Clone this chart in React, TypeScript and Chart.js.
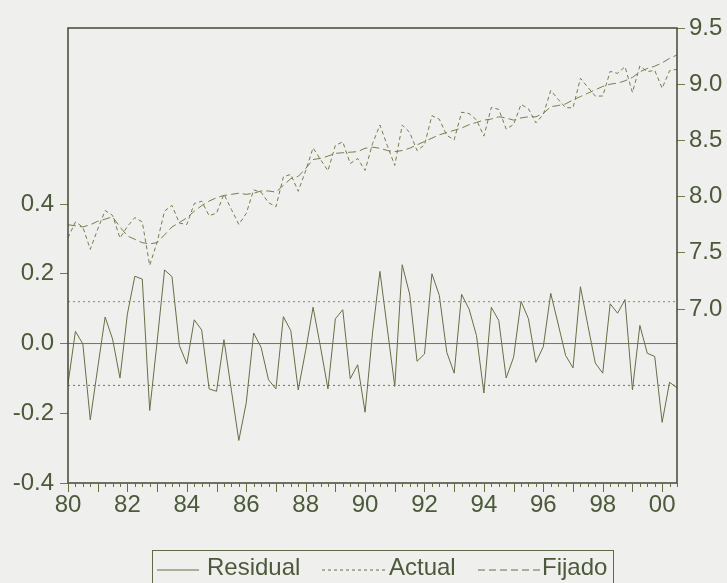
import React, { useEffect, useRef } from 'react';
import { Chart, registerables } from 'chart.js';

Chart.register(...registerables);

// Quarterly sample 1980Q1 - 2000Q3
const startYear = 1980;
const endX = 2000.5;

const residual = [
  -0.116, 0.035, -0.001, -0.219, -0.070, 0.076, 0.013, -0.099, 0.085, 0.193,
  0.185, -0.192, 0.005, 0.211, 0.192, -0.006, -0.058, 0.068, 0.039, -0.130,
  -0.137, 0.011, -0.134, -0.278, -0.170, 0.030, -0.011, -0.104, -0.130, 0.077,
  0.037, -0.133, -0.020, 0.104, -0.010, -0.130, 0.071, 0.097, -0.101, -0.061,
  -0.197, 0.030, 0.207, 0.042, -0.123, 0.226, 0.142, -0.051, -0.030, 0.200,
  0.138, -0.025, -0.085, 0.141, 0.099, 0.023, -0.142, 0.104, 0.066, -0.099,
  -0.039, 0.121, 0.071, -0.054, -0.009, 0.144, 0.056, -0.034, -0.070, 0.163,
  0.052, -0.056, -0.085, 0.114, 0.087, 0.126, -0.133, 0.052, -0.028, -0.037,
  -0.226, -0.111, -0.127,
];

const actual = [
  7.634, 7.775, 7.729, 7.531, 7.710, 7.876, 7.833, 7.631, 7.735, 7.813,
  7.775, 7.388, 7.595, 7.871, 7.922, 7.764, 7.752, 7.938, 7.959, 7.830,
  7.853, 8.021, 7.886, 7.752, 7.850, 8.060, 8.039, 7.946, 7.910, 8.177,
  8.197, 8.047, 8.230, 8.434, 8.330, 8.230, 8.456, 8.487, 8.294, 8.339,
  8.233, 8.470, 8.637, 8.452, 8.277, 8.636, 8.572, 8.409, 8.460, 8.720,
  8.688, 8.545, 8.505, 8.751, 8.739, 8.683, 8.538, 8.794, 8.776, 8.601,
  8.641, 8.821, 8.781, 8.656, 8.731, 8.944, 8.866, 8.791, 8.790, 9.053,
  8.972, 8.894, 8.895, 9.114, 9.097, 9.156, 8.927, 9.162, 9.112, 9.123,
  8.964, 9.119, 9.133,
];

const fitted = [
  7.75, 7.74, 7.73, 7.75, 7.78, 7.80, 7.82, 7.73, 7.65, 7.62,
  7.59, 7.58, 7.59, 7.66, 7.73, 7.77, 7.81, 7.87, 7.92, 7.96,
  7.99, 8.01, 8.02, 8.03, 8.02, 8.03, 8.05, 8.05, 8.04, 8.10,
  8.16, 8.18, 8.25, 8.33, 8.34, 8.36, 8.385, 8.39, 8.395, 8.40,
  8.43, 8.44, 8.43, 8.41, 8.40, 8.41, 8.43, 8.46, 8.49, 8.52,
  8.55, 8.57, 8.59, 8.61, 8.64, 8.66, 8.68, 8.69, 8.71, 8.70,
  8.68, 8.70, 8.71, 8.71, 8.74, 8.80, 8.81, 8.825, 8.86, 8.89,
  8.92, 8.95, 8.98, 9.00, 9.01, 9.03, 9.06, 9.11, 9.14, 9.16,
  9.19, 9.23, 9.26,
];

const seBand = 0.12;

const leftTicks = [-0.4, -0.2, 0.0, 0.2, 0.4];
const leftTickLabels = ['-0.4', '-0.2', '0.0', '0.2', '0.4'];
const rightTicks = [7.0, 7.5, 8.0, 8.5, 9.0, 9.5];
const rightTickLabels = ['7.0', '7.5', '8.0', '8.5', '9.0', '9.5'];
const xTickYears = [1980, 1982, 1984, 1986, 1988, 1990, 1992, 1994, 1996, 1998, 2000];
const xTickLabels = ['80', '82', '84', '86', '88', '90', '92', '94', '96', '98', '00'];
const legendLabels = ['Residual', 'Actual', 'Fijado'];

const FONT = "'Liberation Sans', Arial, sans-serif";
const TEXT = '#4c5a3a';
const FRAME = '#3f4b30';
const LINE = '#6b6c44';
const DASH = '#7b7a4c';
const BG = '#efefed';

const periodX = (i: number) => startYear + i / 4;
const toPoints = (arr: number[]) => arr.map((v, i) => ({ x: periodX(i), y: v }));

const framePlugin = {
  id: 'framePlugin',
  afterDraw(chart: any) {
    const { ctx, chartArea: a, scales } = chart;
    ctx.save();
    ctx.strokeStyle = FRAME;
    ctx.lineWidth = 1.5;
    ctx.strokeRect(a.left, a.top, a.right - a.left, a.bottom - a.top);
    ctx.lineWidth = 1;
    ctx.strokeStyle = '#6a6a3e';
    residual.forEach((_, i) => {
      const px = Math.round(scales.x.getPixelForValue(periodX(i))) + 0.5;
      const len = i % 4 === 0 ? 9 : 4;
      ctx.beginPath();
      ctx.moveTo(px, a.bottom);
      ctx.lineTo(px, a.bottom + len);
      ctx.stroke();
    });
    ctx.restore();
  },
};

function LegendLine({ dash }: { dash?: string }) {
  return (
    <svg width="100%" height="4" style={{ display: 'block' }}>
      <line x1="0" y1="2" x2="100%" y2="2" stroke={LINE} strokeWidth="1" strokeDasharray={dash} />
    </svg>
  );
}

export default function App() {
  const canvasRef = useRef<HTMLCanvasElement | null>(null);

  useEffect(() => {
    if (!canvasRef.current) return;
    const chart = new Chart(canvasRef.current, {
      type: 'line',
      data: {
        datasets: [
          {
            label: legendLabels[0],
            data: toPoints(residual),
            yAxisID: 'y',
            borderColor: LINE,
            borderWidth: 1,
            pointRadius: 0,
            tension: 0,
          },
          {
            label: legendLabels[1],
            data: toPoints(actual),
            yAxisID: 'y2',
            borderColor: DASH,
            borderWidth: 1,
            borderDash: [4, 3],
            pointRadius: 0,
            tension: 0,
          },
          {
            label: legendLabels[2],
            data: toPoints(fitted),
            yAxisID: 'y2',
            borderColor: DASH,
            borderWidth: 1,
            borderDash: [8, 4],
            pointRadius: 0,
            tension: 0,
          },
          {
            label: 'zero',
            data: [{ x: startYear, y: 0 }, { x: endX, y: 0 }],
            yAxisID: 'y',
            borderColor: '#7d7442',
            borderWidth: 1,
            pointRadius: 0,
          },
          {
            label: '+se',
            data: [{ x: startYear, y: seBand }, { x: endX, y: seBand }],
            yAxisID: 'y',
            borderColor: '#8c8a55',
            borderWidth: 1,
            borderDash: [2, 3],
            pointRadius: 0,
          },
          {
            label: '-se',
            data: [{ x: startYear, y: -seBand }, { x: endX, y: -seBand }],
            yAxisID: 'y',
            borderColor: '#6f7450',
            borderWidth: 1,
            borderDash: [2, 3],
            pointRadius: 0,
          },
        ],
      },
      options: {
        animation: false,
        responsive: false,
        devicePixelRatio: 1,
        layout: { padding: { top: 28, left: 0, right: 0, bottom: 0 } },
        plugins: { legend: { display: false }, tooltip: { enabled: false } },
        scales: {
          x: {
            type: 'linear',
            position: 'bottom',
            min: startYear,
            max: endX,
            afterBuildTicks: (s: any) => {
              s.ticks = xTickYears.map((v) => ({ value: v }));
            },
            afterFit: (s: any) => {
              s.height = 100;
            },
            ticks: {
              autoSkip: false,
              maxRotation: 0,
              padding: 8,
              color: TEXT,
              font: { family: FONT, size: 24 },
              callback: (_v: any, i: number) => xTickLabels[i],
            },
            grid: { display: false, drawTicks: false },
            border: { display: false },
          },
          y: {
            type: 'linear',
            position: 'left',
            min: -0.4,
            max: 0.905,
            afterBuildTicks: (s: any) => {
              s.ticks = leftTicks.map((v) => ({ value: v }));
            },
            afterFit: (s: any) => {
              s.width = 68;
            },
            ticks: {
              padding: 6,
              color: TEXT,
              font: { family: FONT, size: 24 },
              callback: (_v: any, i: number) => leftTickLabels[i],
            },
            grid: { drawOnChartArea: false, drawTicks: true, tickLength: 8, color: '#7a7a48' },
            border: { display: false },
          },
          y2: {
            type: 'linear',
            position: 'right',
            min: 5.452,
            max: 9.5,
            afterBuildTicks: (s: any) => {
              s.ticks = rightTicks.map((v) => ({ value: v }));
            },
            afterFit: (s: any) => {
              s.width = 50;
            },
            ticks: {
              padding: 4,
              color: TEXT,
              font: { family: FONT, size: 24 },
              callback: (_v: any, i: number) => rightTickLabels[i],
            },
            grid: { drawOnChartArea: false, drawTicks: true, tickLength: 8, color: '#7a7a48' },
            border: { display: false },
          },
        },
      },
      plugins: [framePlugin],
    } as any);
    return () => chart.destroy();
  }, []);

  const textStyle: React.CSSProperties = {
    position: 'absolute',
    top: 553,
    fontFamily: FONT,
    fontSize: 24,
    lineHeight: '28px',
    color: TEXT,
    whiteSpace: 'nowrap',
  };
  const lineStyle = (left: number, width: number): React.CSSProperties => ({
    position: 'absolute',
    left,
    top: 568,
    width,
  });

  return (
    <div
      style={{
        position: 'fixed',
        left: 0,
        top: 0,
        width: 727,
        height: 583,
        background: BG,
        overflow: 'hidden',
      }}
    >
      <canvas ref={canvasRef} width={727} height={583} style={{ display: 'block', width: 727, height: 583 }} />
      <div
        style={{
          position: 'absolute',
          left: 152,
          top: 550,
          width: 462,
          height: 60,
          border: '1px solid #5e6a48',
          boxSizing: 'border-box',
        }}
      />
      <div style={lineStyle(157, 42)}>
        <LegendLine />
      </div>
      <div style={{ ...textStyle, left: 207 }}>{legendLabels[0]}</div>
      <div style={lineStyle(322, 65)}>
        <LegendLine dash="3 3" />
      </div>
      <div style={{ ...textStyle, left: 389 }}>{legendLabels[1]}</div>
      <div style={lineStyle(478, 62)}>
        <LegendLine dash="7 4" />
      </div>
      <div style={{ ...textStyle, left: 542 }}>{legendLabels[2]}</div>
    </div>
  );
}
